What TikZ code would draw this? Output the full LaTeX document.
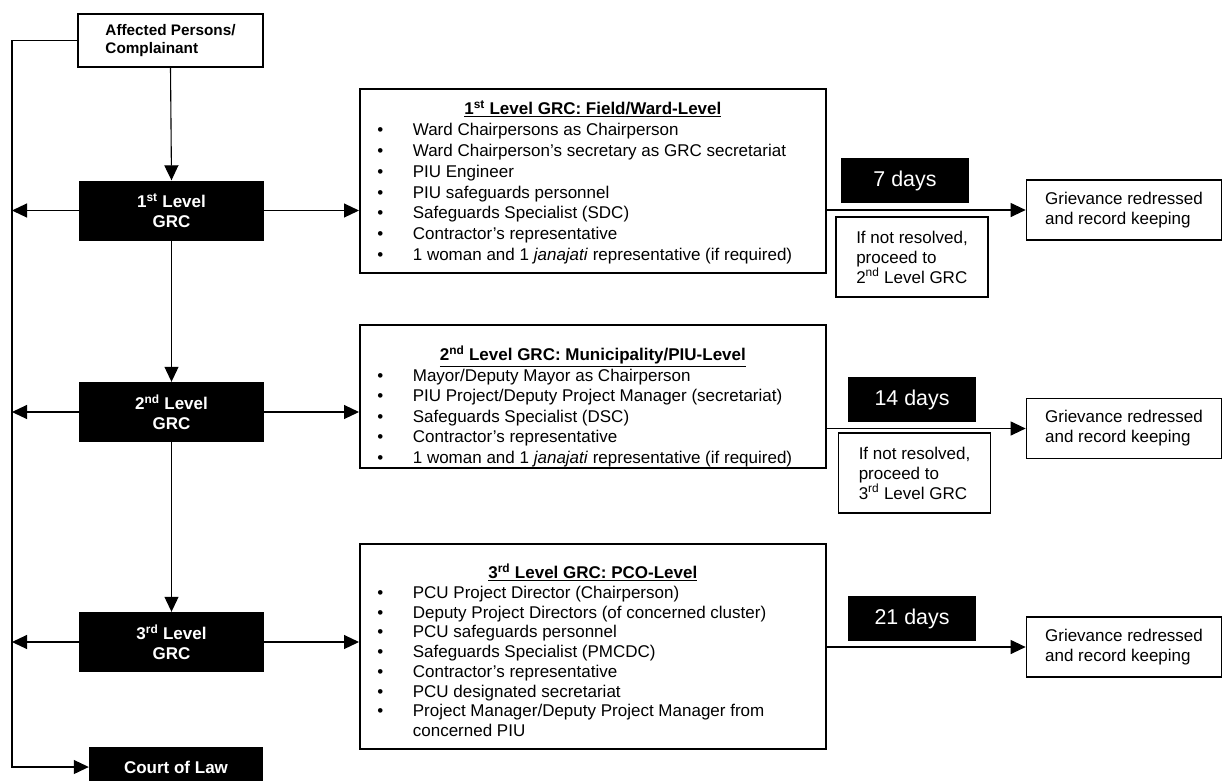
\documentclass[tikz,border=0pt]{standalone}
\usepackage{fontspec}
\setmainfont{Liberation Sans}
\usetikzlibrary{arrows.meta}

\newcommand{\boxhead}[2]{\noindent\makebox[\linewidth][c]{\rule{0pt}{#1}\underline{\textbf{#2}}}\par}
\newcommand{\bitem}[1]{\hangindent=36pt\hangafter=1\noindent\makebox[36pt][l]{\hspace{0.5pt}\textbullet}#1\par}

\begin{document}
\begin{tikzpicture}[x=1pt,y=-1pt,
    font=\fontsize{17}{20}\selectfont,
    arrow/.style={line width=1.1pt,-{Triangle[length=15pt,width=14pt]}},
    grc/.style={fill=black,text=white,font=\fontsize{17}{20}\selectfont\bfseries,minimum width=185pt,minimum height=60pt,align=center},
    grcbox/.style={draw,line width=1.7pt,inner xsep=17pt,inner ysep=0pt,anchor=north west},
    grv/.style={draw,line width=1.7pt,minimum width=195pt,minimum height=60pt,align=left},
    note/.style={draw,line width=1.7pt,minimum width=152pt,minimum height=80pt,align=left},
    days/.style={fill=black,text=white,minimum width=128pt,minimum height=45pt,font=\fontsize{21.4}{25}\selectfont}]

\useasboundingbox (0,0) rectangle (1223,780);

% Complainant and the three committee levels
\node[draw,line width=1.7pt,minimum width=185pt,minimum height=53pt,align=left,
    font=\fontsize{15.3}{18}\selectfont\bfseries] (aff) at (170.5,40.5) {Affected Persons/\\Complainant};
\node[grc] (g1) at (171.5,210.5) {1\textsuperscript{st} Level\\GRC};
\node[grc] (g2) at (171.5,412) {2\textsuperscript{nd} Level\\GRC};
\node[grc] (g3) at (171.5,642) {3\textsuperscript{rd} Level\\GRC};
\node[grc,minimum width=174pt,minimum height=40pt] (court) at (176,767) {Court of Law};
\coordinate (rail) at (12,0);

% Member lists
\node[grcbox] (b1) at (359,88) {\begin{minipage}[t][184pt][t]{432pt}\fontsize{17}{20.8}\selectfont\raggedright
\boxhead{26pt}{1\textsuperscript{st} Level GRC: Field/Ward-Level}
\bitem{Ward Chairpersons as Chairperson}
\bitem{Ward Chairperson’s secretary as GRC secretariat}
\bitem{PIU Engineer}
\bitem{PIU safeguards personnel}
\bitem{Safeguards Specialist (SDC)}
\bitem{Contractor’s representative}
\bitem{1 woman and 1 \textit{janajati} representative (if required)}
\end{minipage}};
\node[grcbox] (b2) at (359,324) {\begin{minipage}[t][143pt][t]{432pt}\fontsize{17}{20.5}\selectfont\raggedright
\boxhead{36pt}{2\textsuperscript{nd} Level GRC: Municipality/PIU-Level}
\bitem{Mayor/Deputy Mayor as Chairperson}
\bitem{PIU Project/Deputy Project Manager (secretariat)}
\bitem{Safeguards Specialist (DSC)}
\bitem{Contractor’s representative}
\bitem{1 woman and 1 \textit{janajati} representative (if required)}
\end{minipage}};
\node[grcbox] (b3) at (359,543) {\begin{minipage}[t][205pt][t]{432pt}\fontsize{17}{19.7}\selectfont\raggedright
\boxhead{35pt}{3\textsuperscript{rd} Level GRC: PCO-Level}
\bitem{PCU Project Director (Chairperson)}
\bitem{Deputy Project Directors (of concerned cluster)}
\bitem{PCU safeguards personnel}
\bitem{Safeguards Specialist (PMCDC)}
\bitem{Contractor’s representative}
\bitem{PCU designated secretariat}
\bitem{Project Manager/Deputy Project Manager from concerned PIU}
\end{minipage}};

% Time limits and outcomes
\node[days] (d1) at (905,180.5) {7 days};
\node[days] (d2) at (912,399.5) {14 days};
\node[days] (d3) at (912,618.5) {21 days};
\node[note] (n1) at (912,257) {If not resolved,\\proceed to\\2\textsuperscript{nd} Level GRC};
\node[note] (n2) at (914.5,473) {If not resolved,\\proceed to\\3\textsuperscript{rd} Level GRC};
\foreach \i/\y in {1/210,2/428.5,3/647} {
    \node[grv] (gr\i) at (1124,\y) {Grievance redressed\\and record keeping};
}

% Escalation downwards
\draw[arrow] (aff.south) -- (g1.north);
\draw[arrow] (g1.south) -- (g2.north);
\draw[arrow] (g2.south) -- (g3.north);

% Left rail to the court
\draw[arrow] (aff.west) -| (rail |- court.west) -- (court.west);
\foreach \g in {g1,g2,g3} {
    \draw[arrow] (\g.west) -- (\g.west -| rail);
}

% Committees to their member lists, lists to outcomes
\foreach \i in {1,2,3} {
    \draw[arrow] (g\i.east) -- (g\i.east -| b\i.west);
    \draw[arrow] (b\i.east |- gr\i.west) -- (gr\i.west);
}

\end{tikzpicture}
\end{document}
